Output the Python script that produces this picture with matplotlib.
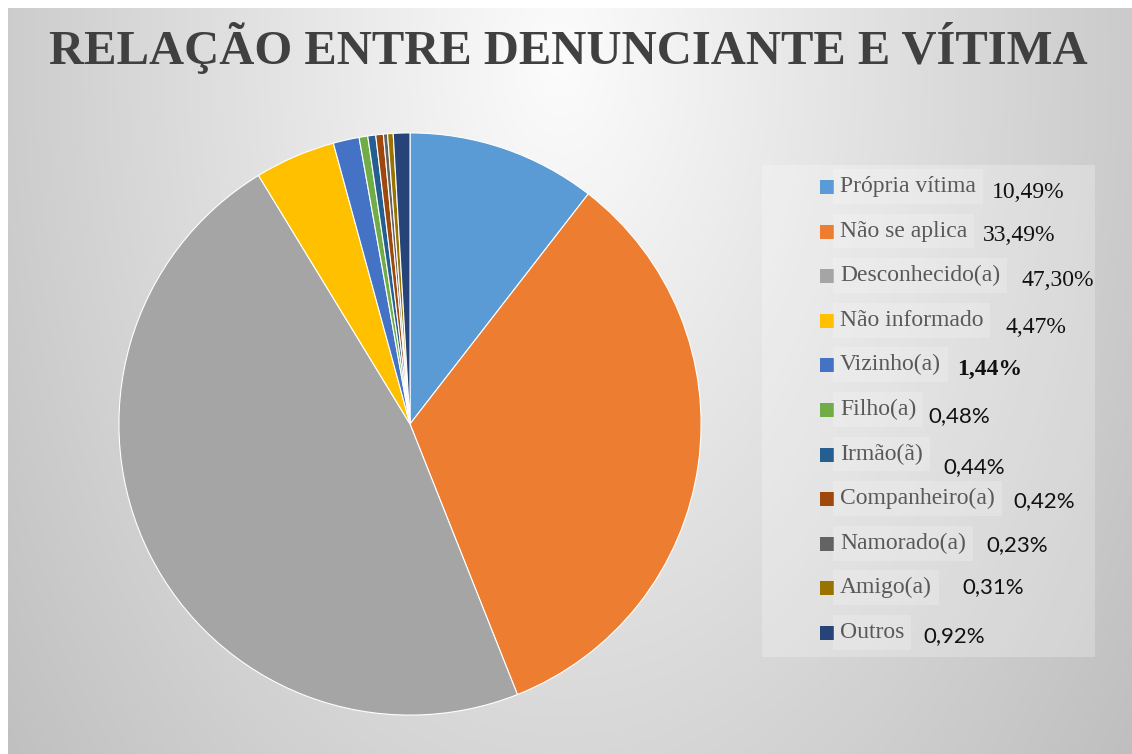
import numpy as np
import matplotlib
matplotlib.use('Agg')
import matplotlib.pyplot as plt
from matplotlib.patches import Rectangle

categories = ['Própria vítima', 'Não se aplica', 'Desconhecido(a)', 'Não informado',
              'Vizinho(a)', 'Filho(a)', 'Irmão(ã)', 'Companheiro(a)',
              'Namorado(a)', 'Amigo(a)', 'Outros']
values = [10.49, 33.49, 47.30, 4.47, 1.44, 0.48, 0.44, 0.42, 0.23, 0.31, 0.92]
pct_labels = ['10,49%', '33,49%', '47,30%', '4,47%', '1,44%', '0,48%',
              '0,44%', '0,42%', '0,23%', '0,31%', '0,92%']
colors = ['#5B9BD5', '#ED7D31', '#A5A5A5', '#FFC000', '#4472C4', '#70AD47',
          '#255E91', '#9E480E', '#636363', '#997300', '#264478']

# where the percentage texts sit (pixels), they are loosely placed in the original
pct_x = [992, 983, 1022, 1005, 957, 928, 943, 1013, 986, 962, 923]
pct_y = [198, 241, 286, 333, 375, 422, 473, 507, 551, 593, 642]
pct_serif = [True, True, True, True, True, False, False, False, False, False, False]

W, H = 1132, 754
fig = plt.figure(figsize=(W / 100, H / 100), dpi=100)
fig.patch.set_facecolor('white')

# background panel with a soft radial gradient
bg = fig.add_axes([0, 0, 1, 1])
bg.set_xlim(0, W)
bg.set_ylim(H, 0)
bg.axis('off')
xx, yy = np.meshgrid(np.arange(8, W), np.arange(8, H))
d = np.sqrt(((xx - 560) / 560.0) ** 2 + ((yy - 60) / 900.0) ** 2)
shade = np.clip(252 - 48 * d, 180, 252) / 255.0
img = np.dstack([shade, shade, shade])
bg.imshow(img, extent=(8, W, H, 8), aspect='auto', interpolation='bilinear', zorder=0)

bg.text(568, 48, 'RELAÇÃO ENTRE DENUNCIANTE E VÍTIMA', ha='center', va='center',
        fontsize=35, fontweight='bold', family='Liberation Serif', color='#404040')

# legend box
bg.add_patch(Rectangle((762, 165), 333, 492, facecolor='white', alpha=0.25,
                       edgecolor='none', zorder=1))
for i, (cat, col) in enumerate(zip(categories, colors)):
    base = 192 + 44.6 * i
    bg.add_patch(Rectangle((820, base - 12), 14, 14, facecolor=col, edgecolor='none', zorder=3))
    bg.text(840, base, cat, ha='left', va='baseline', fontsize=17,
            family='Liberation Serif', color='#595959', zorder=3,
            bbox=dict(facecolor='white', alpha=0.2, edgecolor='none', pad=5))
    if pct_serif[i]:
        bg.text(pct_x[i], pct_y[i], pct_labels[i], ha='left', va='baseline',
                fontsize=17, family='Liberation Serif', color='#111111', zorder=3,
                fontweight='bold' if i == 4 else 'normal')
    else:
        bg.text(pct_x[i], pct_y[i], pct_labels[i], ha='left', va='baseline',
                fontsize=16, family='Lato', color='#111111', zorder=3)

# pie
cx, cy, r = 410, 424, 294
ax = fig.add_axes([(cx - r) / W, (H - cy - r) / H, 2 * r / W, 2 * r / H])
ax.pie(values, colors=colors, startangle=90, counterclock=False,
       wedgeprops=dict(edgecolor='white', linewidth=0.8))
ax.set_xlim(-1.01, 1.01)
ax.set_ylim(-1.01, 1.01)
ax.axis('off')

fig.savefig('out.png', dpi=100)
